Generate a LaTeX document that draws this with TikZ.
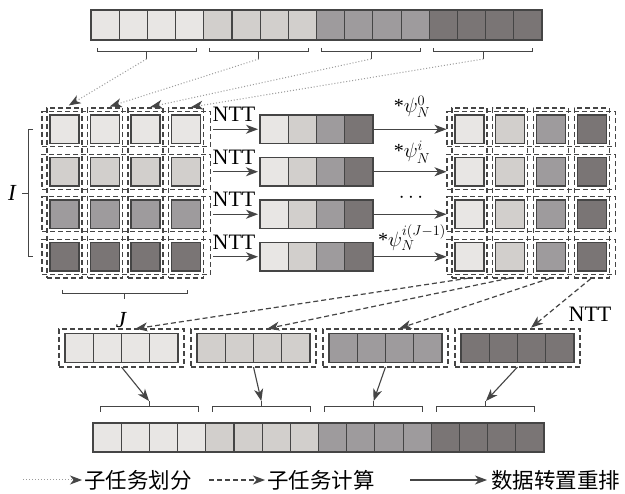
\documentclass[tikz,border=0pt]{standalone}
\usepackage{fontspec}
\setmainfont{Liberation Serif}
\newfontfamily\cjk{Noto Sans CJK SC}
\usetikzlibrary{arrows.meta,calc}
\definecolor{g0}{HTML}{E8E6E4}
\definecolor{g1}{HTML}{D2CFCC}
\definecolor{g2}{HTML}{9E9B9D}
\definecolor{g3}{HTML}{7A7575}
\definecolor{edge}{HTML}{454545}
\definecolor{dotc}{HTML}{9A9A9A}
\begin{document}
\begin{tikzpicture}[x=1pt,y=-1pt,
  cell/.style={draw=edge, line width=1.1pt, inner sep=0pt, outer sep=0pt, anchor=north west},
  dbox/.style={draw=edge, dash pattern=on 5pt off 3pt, line width=1.2pt, inner sep=0pt, outer sep=0pt, anchor=north west},
  brk/.style={draw=edge, line width=1pt},
  tipa/.style={-{Stealth[length=12pt,width=9pt,inset=3.5pt]}},
  dotarrow/.style={draw=dotc, line width=1pt, dotted, arrows={-{Stealth[length=12pt,width=9pt,inset=3.5pt,color=edge]}}},
  dasharrow/.style={tipa, draw=edge, line width=1.2pt, dash pattern=on 5pt off 3pt},
  solidarrow/.style={tipa, draw=edge, line width=1.1pt},
  lbl/.style={font=\fontsize{22}{24}\selectfont, inner sep=0pt},
  cjklbl/.style={font=\cjk\fontsize{21.5}{24}\selectfont, inner sep=0pt, anchor=west}
]
\useasboundingbox (0,0) rectangle (625,494);
\fill[white] (0,0) rectangle (625,494);

% ---------- top bar ----------
\foreach \i in {0,...,15}{
  \pgfmathtruncatemacro\g{\i/4}
  \node[cell, minimum width=28.19pt, minimum height=30pt, fill=g\g] (T\i) at ({91+28.19*\i},10) {};
}
% top brackets
\foreach \k in {0,...,3}{
  \pgfmathsetmacro\xa{97+112.3*\k}
  \pgfmathsetmacro\xb{\xa+99}
  \pgfmathsetmacro\xm{\xa+49.5}
  \draw[brk] (\xa,48) -- (\xa,52) -- (\xb,52) -- (\xb,48);
  \draw[brk] (\xm,52) -- (\xm,59);
  \coordinate (tb\k) at (\xm,59);
}

% ---------- left grid ----------
\def\rowtops{{115,157.5,200,242.5}}
\def\lcols{{50,90.5,131,171.5}}
\def\rcols{{455,495.7,536.4,577.1}}
\foreach \r in {0,...,3}{
  \pgfmathsetmacro\yt{\rowtops[\r]}
  \pgfmathtruncatemacro\g{\r}
  \foreach \c in {0,...,3}{
    \pgfmathsetmacro\xl{\lcols[\c]}
    \node[cell, minimum width=29pt, minimum height=28.5pt, fill=g\g] (L\r\c) at (\xl,\yt) {};
  }
  % row dashed boxes
  \node[dbox, minimum width=168.5pt, minimum height=35pt] (LR\r) at (42,\yt-3.25) {};
}
\foreach \c in {0,...,3}{
  \pgfmathsetmacro\xl{\lcols[\c]}
  \node[dbox, minimum width=35pt, minimum height=170pt] (LC\c) at (\xl-3,108) {};
}
% I bracket
\draw[brk] (33,130) -- (28,130) -- (28,257) -- (33,257);
\draw[brk] (28,193.5) -- (22,193.5);
\node[lbl, font=\fontsize{23}{24}\selectfont\itshape] (Ilab) at (12,193) {I};
% J bracket
\draw[brk] (62,290) -- (62,294) -- (187,294) -- (187,290);
\draw[brk] (124.5,294) -- (124.5,299);
\node[lbl, font=\fontsize{23}{24}\selectfont\itshape] (Jlab) at (121,320) {J};

% dotted arrows top -> left columns
\foreach \k in {0,...,3}{
  \draw[dotarrow, shorten >=5pt] (tb\k) -- (LC\k.north);
}

% ---------- middle bars ----------
\foreach \r in {0,...,3}{
  \pgfmathsetmacro\yt{\rowtops[\r]}
  \foreach \m in {0,...,3}{
    \node[cell, minimum width=28.25pt, minimum height=28.5pt, fill=g\m] (M\r\m) at ({260+28.25*\m},\yt) {};
  }
  \draw[solidarrow, shorten <=2.5pt, shorten >=2pt] (LR\r.east) -- (M\r0.west);
  \node[lbl] (ntt\r) at (234,\yt-0.5) {NTT};
}

% ---------- right grid ----------
\foreach \r in {0,...,3}{
  \pgfmathsetmacro\yt{\rowtops[\r]}
  \foreach \c in {0,...,3}{
    \pgfmathsetmacro\xl{\rcols[\c]}
    \node[cell, minimum width=29pt, minimum height=28.5pt, fill=g\c] (R\r\c) at (\xl,\yt) {};
  }
  \node[dbox, minimum width=168.5pt, minimum height=35pt] (RR\r) at (447,\yt-3.25) {};
  \draw[solidarrow, shorten >=0.5pt] (M\r3.east) -- (RR\r.west);
}
\foreach \c in {0,...,3}{
  \pgfmathsetmacro\xl{\rcols[\c]}
  \node[dbox, minimum width=35pt, minimum height=170pt] (RC\c) at (\xl-3,108) {};
}
% psi labels
\node[lbl, font=\fontsize{20}{22}\selectfont] (p0) at (412,107) {*$\psi_N^0$};
\node[lbl, font=\fontsize{20}{22}\selectfont] (p1) at (412,152) {*$\psi_N^i$};
\node[lbl, font=\fontsize{20}{22}\selectfont] (p2) at (411,198) {$\cdots$};
\node[lbl, font=\fontsize{20}{22}\selectfont] (p3) at (412,238) {*$\psi_N^{i(J-1)}$};

% ---------- groups ----------
\foreach \k in {0,...,3}{
  \node[dbox, minimum width=125pt, minimum height=38pt] (G\k) at ({59+132*\k},329) {};
  \foreach \m in {0,...,3}{
    \node[cell, minimum width=28.25pt, minimum height=29pt, fill=g\k] (G\k\m) at ({65+132*\k+28.25*\m},333.5) {};
  }
}
\foreach \k in {0,...,3}{
  \draw[dasharrow, shorten <=1pt, shorten >=2pt] (RC\k.south) -- ([xshift=12pt]G\k.north);
}
\node[lbl] (nttb) at (590,314.5) {NTT};

% ---------- bottom brackets ----------
\foreach \k in {0,...,3}{
  \pgfmathsetmacro\xa{100+112.3*\k}
  \pgfmathsetmacro\xb{\xa+98}
  \pgfmathsetmacro\xm{\xa+49}
  \draw[brk] (\xa,412) -- (\xa,407) -- (\xb,407) -- (\xb,412);
  \draw[brk] (\xm,407) -- (\xm,401);
  \coordinate (bb\k) at (\xm,401);
}
\foreach \k in {0,...,3}{
  \draw[solidarrow] (G\k.south) -- (bb\k);
}

% ---------- bottom bar ----------
\foreach \i in {0,...,15}{
  \pgfmathtruncatemacro\g{\i/4}
  \node[cell, minimum width=28.19pt, minimum height=29pt, fill=g\g] (B\i) at ({93+28.19*\i},423) {};
}

% ---------- legend ----------
\coordinate (la0) at (23,480);
\coordinate (la1) at (82,480);
\coordinate (lb0) at (209,480);
\coordinate (lb1) at (265,480);
\coordinate (lc0) at (410,480);
\coordinate (lc1) at (487,480);
\draw[dotarrow] (la0) -- (la1);
\node[cjklbl] (t1) at (84,480) {子任务划分};
\draw[dasharrow] (lb0) -- (lb1);
\node[cjklbl] (t2) at (267,480) {子任务计算};
\draw[solidarrow] (lc0) -- (lc1);
\node[cjklbl] (t3) at (491,480) {数据转置重排};
\end{tikzpicture}
\end{document}
